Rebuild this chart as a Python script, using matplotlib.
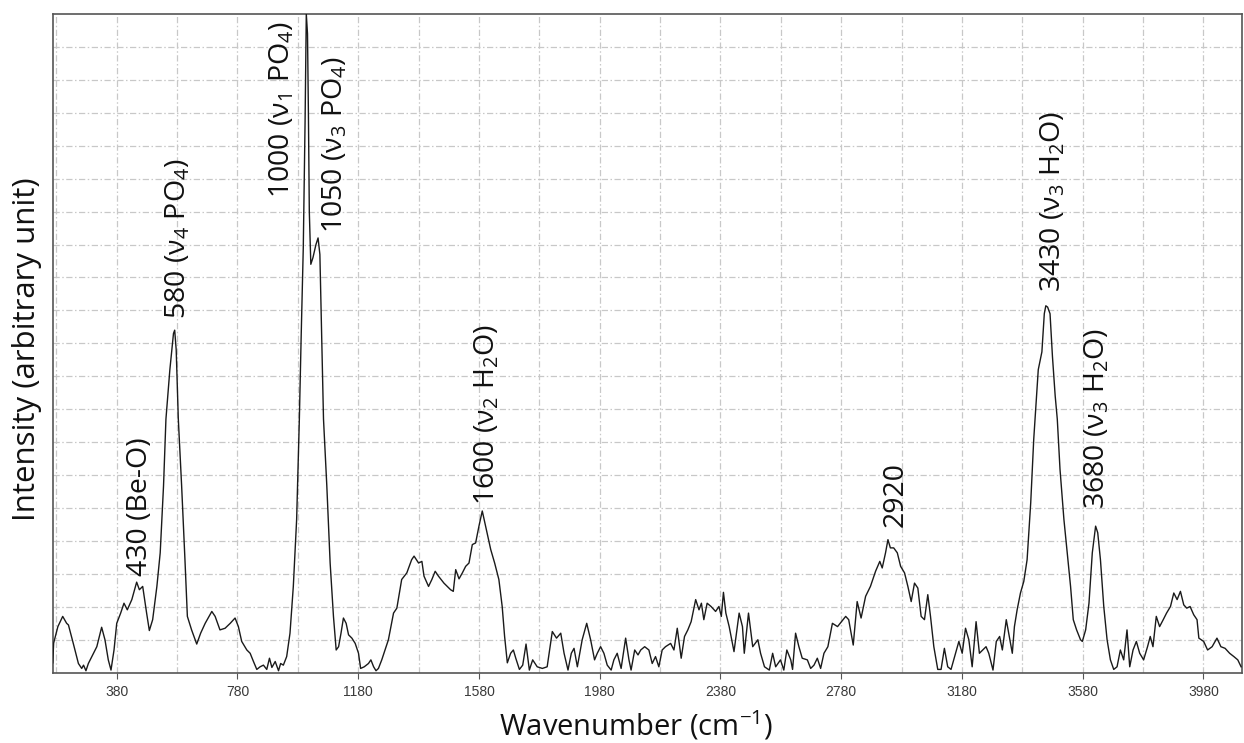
import matplotlib
matplotlib.use('Agg')
import matplotlib.pyplot as plt

plt.rcParams['font.family'] = ['Open Sans', 'DejaVu Sans']
plt.rcParams['mathtext.fontset'] = 'custom'
plt.rcParams['mathtext.rm'] = 'Open Sans'
plt.rcParams['mathtext.it'] = 'Open Sans'
plt.rcParams['mathtext.default'] = 'regular'

# spectrum (wavenumber in cm-1, intensity in grid units)
wavenumber = [168, 171, 185, 201, 214, 220, 236, 253, 264, 270, 278, 286, 303, 314, 330, 341, 352, 361, 371,
              380, 393, 404, 415, 430, 446, 455, 466, 479, 488, 499, 513, 524, 535, 543, 556, 568, 572, 577,
              584, 595, 606, 614, 628, 645, 658, 673, 695, 706, 722, 739, 756, 772, 783, 794, 811, 822, 833,
              844, 855, 866, 877, 886, 894, 905, 916, 923, 932, 943, 954, 965, 976, 985, 991, 998, 1004, 1008,
              1012, 1015, 1018, 1023, 1030, 1040, 1047, 1053, 1058, 1065, 1076, 1087, 1098, 1107, 1115, 1123,
              1131, 1140, 1148, 1159, 1170, 1181, 1188, 1200, 1214, 1222, 1231, 1239, 1247, 1258, 1269, 1280,
              1297, 1308, 1324, 1341, 1357, 1365, 1380, 1391, 1398, 1413, 1424, 1435, 1446, 1464, 1475, 1486,
              1495, 1503, 1514, 1525, 1536, 1547, 1558, 1569, 1580, 1591, 1602, 1619, 1632, 1646, 1657, 1665,
              1674, 1685, 1694, 1702, 1714, 1725, 1736, 1747, 1758, 1773, 1790, 1806, 1823, 1837, 1851, 1862,
              1875, 1886, 1895, 1906, 1922, 1937, 1950, 1963, 1972, 1983, 1994, 2005, 2018, 2027, 2038, 2051,
              2066, 2077, 2084, 2096, 2107, 2116, 2129, 2143, 2154, 2165, 2176, 2187, 2198, 2215, 2226, 2237,
              2250, 2261, 2272, 2283, 2298, 2309, 2317, 2325, 2336, 2349, 2364, 2375, 2383, 2390, 2398, 2409,
              2425, 2442, 2453, 2459, 2473, 2487, 2504, 2513, 2526, 2542, 2553, 2563, 2579, 2590, 2600, 2613,
              2619, 2629, 2640, 2651, 2668, 2679, 2690, 2701, 2712, 2723, 2736, 2751, 2768, 2795, 2805, 2820,
              2833, 2846, 2861, 2877, 2894, 2908, 2916, 2927, 2935, 2943, 2954, 2966, 2977, 2990, 3001, 3012,
              3023, 3034, 3045, 3056, 3067, 3076, 3087, 3100, 3111, 3122, 3133, 3144, 3156, 3170, 3181, 3192,
              3203, 3214, 3227, 3238, 3249, 3260, 3269, 3283, 3294, 3305, 3314, 3327, 3335, 3347, 3354, 3363,
              3374, 3385, 3396, 3408, 3418, 3433, 3445, 3453, 3458, 3464, 3472, 3480, 3489, 3496, 3505, 3518,
              3529, 3540, 3549, 3560, 3573, 3579, 3590, 3601, 3612, 3623, 3630, 3639, 3650, 3661, 3672, 3683,
              3694, 3705, 3716, 3727, 3736, 3747, 3758, 3769, 3782, 3795, 3804, 3813, 3824, 3835, 3847, 3858,
              3871, 3882, 3893, 3904, 3915, 3925, 3936, 3948, 3959, 3965, 3981, 3994, 4009, 4025, 4038, 4052,
              4067, 4081, 4094, 4105]
intensity = [0.30, 0.90, 1.40, 1.71, 1.50, 1.45, 0.89, 0.28, 0.13, 0.23, 0.06, 0.28, 0.59, 0.79, 1.38, 1.00, 0.39, 0.08, 0.69,
             1.50, 1.81, 2.11, 1.91, 2.22, 2.75, 2.52, 2.62, 1.81, 1.28, 1.61, 2.62, 3.64, 5.67, 7.70, 9.20, 10.30, 10.40, 9.80,
             7.70, 5.67, 3.43, 1.71, 1.30, 0.87, 1.20, 1.50, 1.86, 1.71, 1.30, 1.35, 1.50, 1.66, 1.40, 0.95, 0.69, 0.59, 0.34,
             0.10, 0.18, 0.23, 0.10, 0.44, 0.16, 0.34, 0.06, 0.28, 0.23, 0.49, 1.20, 2.62, 4.65, 7.70, 10.20, 12.90, 16.75, 20.00,
             19.40, 17.00, 14.00, 12.40, 12.60, 13.00, 13.20, 12.70, 10.60, 7.70, 5.67, 3.33, 1.71, 0.69, 0.79, 1.20,
             1.66, 1.50, 1.15, 1.05, 0.89, 0.59, 0.13, 0.18, 0.28, 0.39, 0.18, 0.06, 0.13, 0.39, 0.69, 1.00,
             1.81, 1.96, 2.83, 3.03, 3.43, 3.54, 3.33, 3.38, 2.93, 2.62, 2.83, 3.08, 2.93, 2.72, 2.62, 2.52,
             2.47, 3.13, 2.85, 3.03, 3.23, 3.33, 3.89, 3.94, 4.45, 4.91, 4.45, 3.74, 3.33, 2.83, 2.01, 1.10,
             0.30, 0.59, 0.69, 0.44, 0.10, 0.23, 0.87, 0.08, 0.39, 0.18, 0.13, 0.18, 1.25, 1.05, 1.20, 0.59,
             0.08, 0.59, 0.74, 0.18, 1.00, 1.50, 1.00, 0.39, 0.59, 0.79, 0.59, 0.23, 0.08, 0.39, 0.59, 0.13,
             1.05, 0.39, 0.08, 0.69, 0.54, 0.69, 0.79, 0.69, 0.28, 0.49, 0.18, 0.69, 0.79, 0.89, 0.69, 1.35,
             0.44, 1.10, 1.30, 1.55, 2.22, 1.91, 2.11, 1.61, 2.11, 2.01, 1.86, 2.01, 1.71, 2.44, 1.81, 1.40,
             0.64, 1.81, 1.40, 0.59, 1.81, 0.79, 1.00, 0.59, 0.18, 0.08, 0.59, 0.18, 0.39, 0.08, 0.69, 0.39,
             0.10, 1.20, 0.79, 0.44, 0.39, 0.13, 0.23, 0.44, 0.13, 0.59, 0.79, 1.50, 1.40, 1.71, 1.61, 0.84,
             2.16, 1.66, 2.32, 2.62, 3.08, 3.38, 3.18, 3.64, 4.04, 3.79, 3.79, 3.64, 3.23, 3.03, 2.62, 2.16,
             2.72, 2.57, 1.71, 1.61, 2.37, 1.71, 0.79, 0.10, 0.10, 0.74, 0.18, 0.10, 0.49, 0.95, 0.59, 1.35,
             1.00, 0.18, 1.55, 0.59, 0.69, 0.79, 0.59, 0.08, 0.95, 1.10, 0.69, 1.61, 1.20, 0.59, 1.40, 1.91,
             2.42, 2.77, 3.43, 5.16, 7.09, 9.20, 9.74, 10.90, 11.14, 11.10, 10.90, 9.60, 8.41, 7.70, 6.18, 4.65,
             3.64, 2.62, 1.61, 1.30, 1.00, 0.95, 1.30, 2.11, 3.64, 4.45, 4.25, 3.43, 2.01, 1.00, 0.39, 0.10,
             0.18, 0.69, 0.39, 1.30, 0.18, 0.69, 0.95, 0.59, 0.39, 0.79, 1.10, 0.79, 1.71, 1.40, 1.61, 1.81,
             2.01, 2.42, 2.22, 2.47, 2.06, 1.96, 2.01, 1.76, 1.61, 1.05, 0.95, 0.69, 0.79, 1.05, 0.79, 0.74,
             0.59, 0.49, 0.39, 0.18]

tick_values = [380, 780, 1180, 1580, 1980, 2380, 2780, 3180, 3580, 3980]
grid_x = [180, 580, 980, 1380, 1780, 2180, 2580, 2980, 3380, 3780]
grid_y = list(range(1, 20))

ann_x = [457, 583, 928, 1103, 1607, 2959, 3483, 3628]
ann_y = [2.95, 10.75, 14.4, 13.35, 5.1, 4.41, 11.55, 4.96]
ann_text = ['430 (Be-O)', '580 (ν$_4$ PO$_4$)', '1000 (ν$_1$ PO$_4$)', '1050 (ν$_3$ PO$_4$)',
            '1600 (ν$_2$ H$_2$O)', '2920', '3430 (ν$_3$ H$_2$O)', '3680 (ν$_3$ H$_2$O)']

fig = plt.figure(figsize=(12.44, 7.43), dpi=100)
ax = fig.add_axes([0.0424, 0.0946, 0.956, 0.8866])

ax.plot(wavenumber, intensity, color='#1a1a1a', linewidth=1.0, zorder=3)

ax.set_xlim(168, 4108)
ax.set_ylim(0, 20)

ax.set_xticks(tick_values)
ax.set_xticks(grid_x, minor=True)
ax.set_yticks(grid_y, minor=True)
ax.set_yticks([])
ax.tick_params(axis='x', which='major', length=4, color='#555555', labelsize=10,
               labelcolor='#3a3a3a', pad=5)
ax.tick_params(which='minor', length=0)
for lab in ax.get_xticklabels():
    lab.set_fontfamily('Liberation Sans')

gs = dict(color='#c8c8c8', linewidth=0.9, linestyle=(0, (5, 2, 1.2, 2)))
ax.grid(True, which='major', axis='x', **gs)
ax.grid(True, which='minor', axis='both', **gs)
ax.set_axisbelow(True)

for s in ax.spines.values():
    s.set_color('#555555')
    s.set_linewidth(1.2)

for x, y, t in zip(ann_x, ann_y, ann_text):
    ax.text(x, y, t, rotation=90, ha='center', va='bottom', fontsize=20.5, color='#111111')

ax.set_xlabel('Wavenumber (cm$^{-1}$)', fontsize=21, color='#111111')
ax.set_ylabel('Intensity (arbitrary unit)', fontsize=22.5, color='#111111')
ax.xaxis.set_label_coords(0.4905, -0.054)
ax.yaxis.set_label_coords(-0.009, 0.491)

fig.savefig('out.png', dpi=100)
